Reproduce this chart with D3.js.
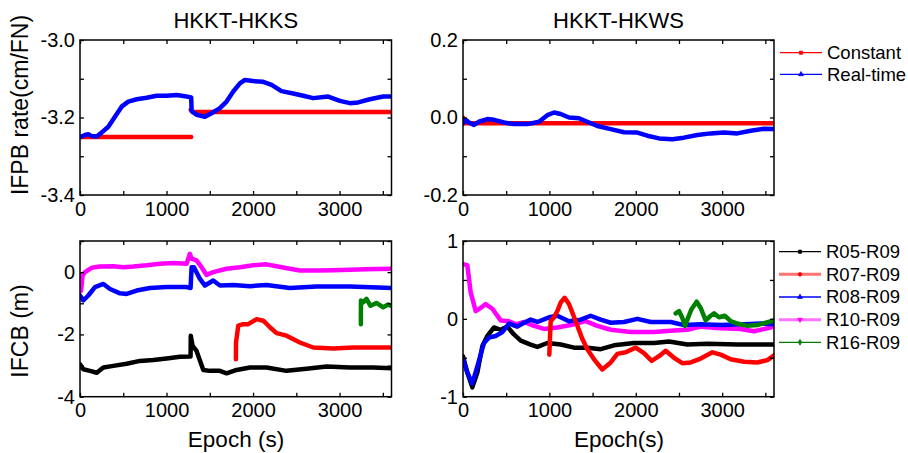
<!DOCTYPE html>
<html>
<head>
<meta charset="utf-8">
<script src="https://cdn.jsdelivr.net/npm/d3@7"></script>
<style>
  body { margin: 0; background: #fff; }
  svg { display: block; font-family: Arial, "Liberation Sans", sans-serif; }
  .frame { fill: none; stroke: #000; stroke-width: 1.5; }
  .ax path { display: none; }
  .ax line { stroke: #000; stroke-width: 1.3; }
  .ax text { font-size: 20px; fill: #000; }
  .series { fill: none; stroke-linejoin: round; stroke-linecap: round; }
</style>
</head>
<body>
<script>
// ---- data (epoch s, value) ----
const hkksConstant = [[0, -3.25], [1285, -3.25], null, [1280, -3.18], [1300, -3.186], [3600, -3.186]];
const hkksRealtime = [[0, -3.251], [58, -3.245], [96, -3.243], [135, -3.248], [193, -3.249], [250, -3.239],
  [327, -3.224], [404, -3.198], [481, -3.172], [558, -3.159], [655, -3.153], [770, -3.149], [886, -3.144],
  [1001, -3.144], [1117, -3.142], [1213, -3.145], [1285, -3.148], [1290, -3.183], [1347, -3.193],
  [1444, -3.198], [1521, -3.189], [1617, -3.176], [1694, -3.159], [1771, -3.133], [1848, -3.112],
  [1906, -3.103], [2002, -3.106], [2117, -3.108], [2214, -3.116], [2329, -3.132], [2464, -3.138],
  [2580, -3.144], [2695, -3.150], [2868, -3.146], [3003, -3.157], [3119, -3.163], [3215, -3.161],
  [3350, -3.153], [3504, -3.146], [3600, -3.146]];

const hkwsConstant = [[0, 0.0], [15, -0.015], [3600, -0.015]];
const hkwsRealtime = [[0, -0.015], [31, -0.006], [69, -0.013], [127, -0.019], [185, -0.011], [282, -0.004],
  [359, -0.006], [475, -0.013], [590, -0.017], [745, -0.017], [880, -0.011], [976, 0.006], [1054, 0.013],
  [1131, 0.009], [1227, 0.0], [1343, -0.002], [1439, -0.011], [1555, -0.022], [1710, -0.030],
  [1864, -0.038], [2018, -0.039], [2134, -0.047], [2269, -0.054], [2423, -0.056], [2558, -0.052],
  [2713, -0.045], [2867, -0.041], [3022, -0.039], [3176, -0.041], [3330, -0.034], [3485, -0.029],
  [3600, -0.030]];

const hkksR05 = [[0, -2.96], [38, -3.12], [116, -3.17], [193, -3.23], [270, -3.06], [385, -3.01], [539, -2.94],
  [693, -2.85], [847, -2.82], [1001, -2.77], [1155, -2.72], [1278, -2.71], [1280, -2.04], [1301, -2.37],
  [1347, -2.53], [1425, -3.14], [1502, -3.17], [1617, -3.17], [1694, -3.25], [1810, -3.14], [1964, -3.06],
  [2156, -3.06], [2387, -3.17], [2618, -3.10], [2849, -3.03], [3119, -3.06], [3388, -3.06], [3600, -3.09]];
const hkksR07 = [[1802, -2.80], [1803, -2.26], [1829, -1.72], [1887, -1.67], [1944, -1.67], [2041, -1.51],
  [2118, -1.56], [2195, -1.77], [2272, -1.96], [2387, -2.04], [2541, -2.26], [2695, -2.42], [2926, -2.45],
  [3157, -2.42], [3388, -2.42], [3600, -2.42]];
const hkksR08 = [[0, -0.75], [38, -0.91], [96, -0.75], [173, -0.48], [270, -0.38], [347, -0.54], [462, -0.68],
  [539, -0.70], [655, -0.59], [809, -0.51], [1001, -0.48], [1232, -0.48], [1278, -0.51], [1290, 0.16],
  [1317, 0.16], [1386, -0.22], [1444, -0.43], [1540, -0.27], [1617, -0.43], [1771, -0.41], [1964, -0.45],
  [2156, -0.41], [2425, -0.51], [2734, -0.46], [3119, -0.46], [3600, -0.51]];
const hkksR10 = [[0, -0.1], [12, -0.6], [30, -0.1], [58, 0.0], [135, 0.14], [231, 0.18], [385, 0.19], [500, 0.16],
  [616, 0.18], [770, 0.22], [924, 0.27], [1078, 0.29], [1232, 0.27], [1270, 0.59], [1290, 0.43],
  [1347, 0.38], [1405, 0.16], [1463, -0.09], [1540, 0.0], [1694, 0.11], [1848, 0.16], [2002, 0.22],
  [2156, 0.25], [2272, 0.19], [2425, 0.11], [2541, 0.05], [2734, 0.05], [2926, 0.06], [3119, 0.08],
  [3311, 0.09], [3600, 0.11]];
const hkksR16 = [[3246, -1.67], [3247, -0.91], [3272, -0.97], [3311, -0.86], [3357, -1.08], [3426, -0.99],
  [3504, -1.13], [3561, -1.04], [3600, -1.08]];

const hkwsR05 = [[0, -0.48], [50, -0.69], [108, -0.88], [166, -0.69], [224, -0.35], [282, -0.22], [359, -0.11],
  [436, -0.14], [513, -0.10], [590, -0.20], [668, -0.28], [783, -0.33], [861, -0.36], [976, -0.31],
  [1131, -0.33], [1285, -0.37], [1439, -0.37], [1594, -0.39], [1748, -0.34], [1980, -0.31], [2211, -0.31],
  [2385, -0.29], [2597, -0.33], [2829, -0.32], [3176, -0.33], [3600, -0.33]];
const hkwsR07 = [[999, -0.46], [1015, -0.03], [1054, 0.02], [1092, 0.10], [1131, 0.21], [1177, 0.27],
  [1227, 0.19], [1304, -0.03], [1382, -0.26], [1439, -0.39], [1517, -0.52], [1613, -0.65], [1710, -0.56],
  [1787, -0.45], [1883, -0.43], [1999, -0.37], [2095, -0.44], [2184, -0.54], [2269, -0.48], [2346, -0.41],
  [2443, -0.50], [2539, -0.57], [2636, -0.56], [2751, -0.51], [2887, -0.43], [2983, -0.46], [3099, -0.52],
  [3253, -0.55], [3407, -0.56], [3523, -0.53], [3600, -0.47]];
const hkwsR08 = [[0, -0.52], [50, -0.69], [108, -0.83], [166, -0.61], [243, -0.31], [301, -0.24], [378, -0.22],
  [455, -0.17], [533, -0.06], [629, -0.10], [706, -0.05], [783, -0.01], [861, -0.04], [996, 0.02],
  [1092, 0.04], [1227, -0.03], [1362, -0.01], [1478, 0.04], [1594, -0.01], [1710, -0.05], [1864, -0.04],
  [2018, 0.0], [2173, -0.04], [2404, -0.04], [2558, -0.08], [2751, -0.07], [2983, -0.08], [3253, -0.07],
  [3446, -0.06], [3600, -0.07]];
const hkwsR10 = [[12, 0.70], [50, 0.69], [89, 0.34], [147, 0.10], [205, 0.14], [262, 0.19], [340, 0.13],
  [436, -0.02], [533, -0.03], [610, -0.07], [706, -0.04], [822, -0.09], [938, -0.13], [1092, -0.11],
  [1246, -0.08], [1420, -0.03], [1555, -0.09], [1710, -0.14], [1941, -0.17], [2211, -0.17], [2443, -0.15],
  [2597, -0.14], [2751, -0.10], [2983, -0.12], [3215, -0.13], [3369, -0.16], [3600, -0.10]];
const hkwsR16 = [[2462, 0.07], [2501, 0.10], [2539, 0.01], [2570, -0.09], [2597, -0.01], [2643, 0.12],
  [2705, 0.22], [2751, 0.14], [2809, -0.02], [2867, 0.04], [2906, 0.07], [2964, 0.02], [3030, 0.04],
  [3099, -0.03], [3176, -0.06], [3292, -0.09], [3407, -0.08], [3504, -0.05], [3600, -0.02]];

const titles = ["HKKT-HKKS", "HKKT-HKWS"];
const rateLegend = ["Constant", "Real-time"];
const pairLegend = ["R05-R09", "R07-R09", "R08-R09", "R10-R09", "R16-R09"];
const xMajor = [0, 1000, 2000, 3000];
const xMinor = [500, 1500, 2500, 3500];

// ---- layout ----
const W = 908, H = 453;
const colL = [80, 391.5], colR = [463, 774];
const rowT = [40, 195], rowB = [241, 396.7];

const svg = d3.select("body").append("svg").attr("width", W).attr("height", H);

const C = {red: "#ff0000", blue: "#0000ff", black: "#000000", magenta: "#ff00ff", green: "#008000"};

const panels = [
  {cols: colL, rows: rowT, ydom: [-3.4, -3.0], major: [-3.4, -3.2, -3.0], minor: [-3.3, -3.1], fmt: d => d.toFixed(1),
   series: [[hkksConstant, C.red], [hkksRealtime, C.blue]]},
  {cols: colR, rows: rowT, ydom: [-0.2, 0.2], major: [-0.2, 0, 0.2], minor: [-0.1, 0.1], fmt: d => d.toFixed(1),
   series: [[hkwsConstant, C.red], [hkwsRealtime, C.blue]]},
  {cols: colL, rows: rowB, ydom: [-4, 1], major: [-4, -2, 0], minor: [-3, -1, 1], fmt: d => String(d),
   series: [[hkksR07, C.red], [hkksR16, C.green], [hkksR05, C.black], [hkksR08, C.blue], [hkksR10, C.magenta]]},
  {cols: colR, rows: rowB, ydom: [-1, 1], major: [-1, 0, 1], minor: [-0.5, 0.5], fmt: d => String(d),
   series: [[hkwsR10, C.magenta], [hkwsR05, C.black], [hkwsR08, C.blue], [hkwsR07, C.red], [hkwsR16, C.green]]}
];

panels.forEach(p => {
  const x = d3.scaleLinear().domain([0, 3600]).range(p.cols);
  const y = d3.scaleLinear().domain(p.ydom).range([p.rows[1], p.rows[0]]);
  const g = svg.append("g");

  const clipId = "clip" + Math.round(p.cols[0]) + "_" + Math.round(p.rows[0]);
  svg.append("clipPath").attr("id", clipId).append("rect")
    .attr("x", p.cols[0]).attr("y", p.rows[0] - 3)
    .attr("width", p.cols[1] - p.cols[0]).attr("height", p.rows[1] - p.rows[0] + 6);

  const line = d3.line().defined(d => d).x(d => x(d[0])).y(d => y(d[1]));
  g.append("g").attr("clip-path", `url(#${clipId})`)
    .selectAll("path").data(p.series).enter().append("path")
      .attr("class", "series")
      .attr("stroke", d => d[1])
      .attr("stroke-width", 4.5)
      .attr("d", d => line(d[0]));

  // ticks, pointing inward on all four sides
  const ax = (axis, tr) => g.append("g").attr("class", "ax").attr("transform", tr).call(axis);
  ax(d3.axisBottom(x).tickValues(xMajor).tickSize(-4).tickPadding(6.5).tickFormat(d3.format("d")), `translate(0,${p.rows[1]})`);
  ax(d3.axisBottom(x).tickValues(xMinor).tickSize(-4).tickFormat(""), `translate(0,${p.rows[1]})`);
  ax(d3.axisTop(x).tickValues(xMajor.concat(xMinor)).tickSize(-4).tickFormat(""), `translate(0,${p.rows[0]})`);
  ax(d3.axisLeft(y).tickValues(p.major).tickSize(-4).tickPadding(5).tickFormat(p.fmt), `translate(${p.cols[0]},0)`);
  ax(d3.axisLeft(y).tickValues(p.minor).tickSize(-4).tickFormat(""), `translate(${p.cols[0]},0)`);
  ax(d3.axisRight(y).tickValues(p.major.concat(p.minor)).tickSize(-4).tickFormat(""), `translate(${p.cols[1]},0)`);

  g.append("rect").attr("class", "frame")
    .attr("x", p.cols[0]).attr("y", p.rows[0])
    .attr("width", p.cols[1] - p.cols[0]).attr("height", p.rows[1] - p.rows[0]);
});

// titles
svg.selectAll(".title").data(titles).enter().append("text")
  .attr("x", (d, i) => i ? (colR[0] + colR[1]) / 2 : (colL[0] + colL[1]) / 2)
  .attr("y", 28.3)
  .attr("text-anchor", "middle")
  .attr("font-size", 22)
  .text(d => d);

// axis labels
svg.append("text").attr("transform", "translate(28,105) rotate(-90)")
  .attr("text-anchor", "middle").attr("font-size", 23).text("IFPB rate(cm/FN)");
svg.append("text").attr("transform", "translate(28,331) rotate(-90)")
  .attr("text-anchor", "middle").attr("font-size", 23).text("IFCB (m)");
svg.append("text").attr("x", 236).attr("y", 447)
  .attr("text-anchor", "middle").attr("font-size", 22.5).text("Epoch (s)");
svg.append("text").attr("x", 619).attr("y", 447)
  .attr("text-anchor", "middle").attr("font-size", 22.5).text("Epoch(s)");

// legends
function legend(items, colors, symbols, widths, x0, y0, dy) {
  const lg = svg.append("g");
  items.forEach((name, i) => {
    const yy = y0 + i * dy;
    lg.append("line").attr("x1", x0).attr("x2", x0 + 42).attr("y1", yy).attr("y2", yy)
      .attr("stroke", colors[i]).attr("stroke-width", widths[i]).attr("stroke-opacity", widths[i] > 2 ? 0.55 : 1);
    lg.append("path").attr("transform", `translate(${x0 + 21},${yy})`)
      .attr("d", d3.symbol().type(symbols[i]).size(10)())
      .attr("fill", colors[i]).attr("stroke", colors[i]).attr("stroke-width", 0.8);
    lg.append("text").attr("x", x0 + 47).attr("y", yy).attr("dy", "0.35em")
      .attr("font-size", 18.5).text(name);
  });
}
const triDown = {draw(ctx, size) { d3.symbolTriangle.draw({moveTo: (a, b) => ctx.moveTo(a, -b), lineTo: (a, b) => ctx.lineTo(a, -b), closePath: () => ctx.closePath()}, size); }};
legend(rateLegend, [C.red, C.blue], [d3.symbolSquare, d3.symbolTriangle], [1.3, 1.3], 780, 52.7, 21.6);
legend(pairLegend, [C.black, C.red, C.blue, C.magenta, C.green],
  [d3.symbolSquare, d3.symbolCircle, d3.symbolTriangle, triDown, d3.symbolDiamond],
  [1.3, 3, 1.3, 3, 1.3], 779, 251.7, 22.65);
</script>
</body>
</html>
